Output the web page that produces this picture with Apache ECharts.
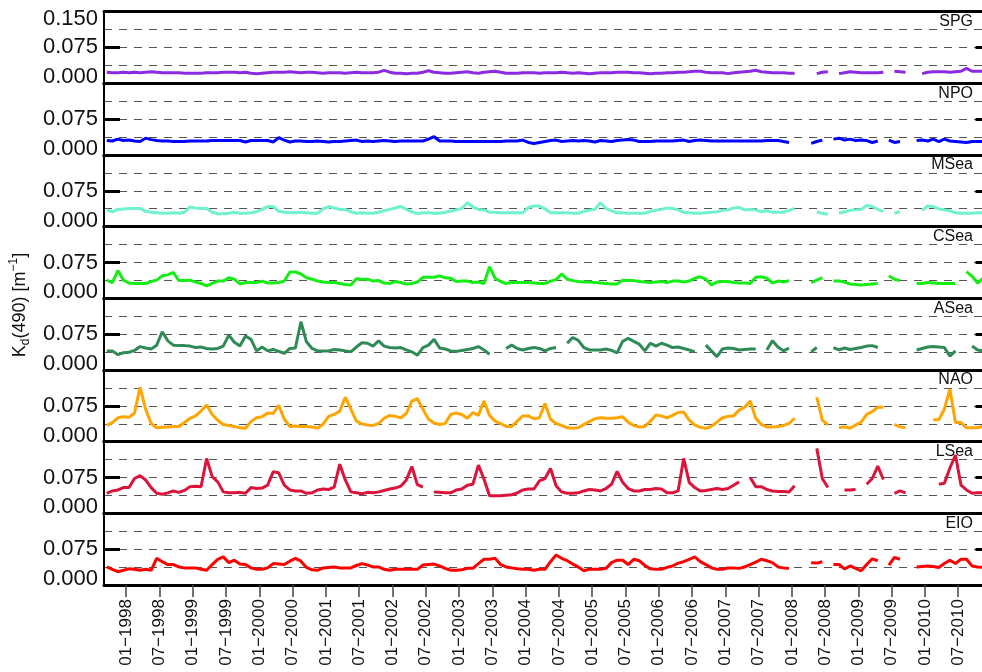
<!DOCTYPE html>
<html><head><meta charset="utf-8">
<script src="https://cdn.jsdelivr.net/npm/echarts@6/dist/echarts.min.js"></script>
<style>html,body{margin:0;padding:0;background:#fff}#c{width:982px;height:672px}</style>
</head><body><div id="c"></div>
<script>
// Monthly series, first month = 1997-09 (index 0), last = 2010-12 (index 159); null = missing month
const regions = ['SPG','NPO','MSea','CSea','ASea','NAO','LSea','EIO'];
const SPG = [0.023,0.022,0.022,0.023,0.022,0.023,0.022,0.023,0.024,0.023,
0.022,0.022,0.022,0.022,0.021,0.021,0.021,0.021,0.022,0.022,
0.022,0.023,0.023,0.023,0.022,0.023,0.021,0.020,0.021,0.022,
0.023,0.023,0.023,0.024,0.023,0.022,0.023,0.023,0.022,0.021,
0.022,0.022,0.022,0.021,0.022,0.023,0.022,0.022,0.022,0.023,
0.027,0.023,0.021,0.021,0.020,0.021,0.021,0.023,0.026,0.023,
0.022,0.021,0.021,0.022,0.023,0.024,0.022,0.021,0.023,0.024,
0.025,0.023,0.021,0.021,0.021,0.022,0.022,0.022,0.021,0.022,
0.022,0.022,0.023,0.022,0.021,0.022,0.021,0.020,0.021,0.022,
0.022,0.022,0.023,0.023,0.023,0.022,0.022,0.021,0.020,0.021,
0.021,0.022,0.022,0.023,0.023,0.024,0.025,0.025,0.023,0.022,
0.022,0.022,0.020,0.022,0.023,0.024,0.025,0.027,0.024,0.023,
0.022,0.022,0.022,0.021,0.021,null,null,null,0.020,0.023,
0.024,null,0.020,0.022,0.024,0.023,0.022,0.022,0.022,0.022,
0.023,null,0.025,0.024,0.023,null,null,0.020,0.023,0.024,
0.024,0.024,0.023,0.024,0.025,0.031,0.025,0.025,0.025,0.025];
const NPO = [0.030,0.029,0.033,0.030,0.031,0.029,0.028,0.035,0.032,0.030,
0.029,0.029,0.028,0.028,0.028,0.029,0.029,0.029,0.029,0.030,
0.030,0.030,0.030,0.030,0.030,0.027,0.030,0.030,0.030,0.030,
0.027,0.036,0.031,0.027,0.029,0.029,0.028,0.028,0.029,0.028,
0.027,0.028,0.028,0.029,0.030,0.031,0.028,0.029,0.028,0.029,
0.030,0.029,0.028,0.029,0.029,0.029,0.029,0.029,0.033,0.038,
0.029,0.029,0.029,0.028,0.028,0.028,0.028,0.028,0.028,0.028,
0.028,0.028,0.029,0.029,0.029,0.031,0.026,0.024,0.026,0.028,
0.030,0.031,0.028,0.029,0.030,0.029,0.030,0.029,0.027,0.030,
0.029,0.028,0.030,0.031,0.032,0.031,0.028,0.028,0.028,0.029,
0.029,0.029,0.029,0.030,0.031,0.028,0.030,0.031,0.030,0.029,
0.029,0.029,0.029,0.029,0.029,0.029,0.029,0.029,0.029,0.030,
0.030,0.030,0.028,0.026,null,null,null,0.024,0.028,0.031,
null,0.033,0.035,0.031,0.033,0.030,0.031,0.030,0.026,0.029,
null,0.031,0.026,0.028,null,null,0.030,0.031,0.029,0.033,
0.028,0.033,0.029,0.028,0.027,0.026,0.028,0.028,0.028,0.028];
const MSea = [0.035,0.031,0.036,0.037,0.038,0.038,0.038,0.032,0.030,0.029,
0.028,0.028,0.029,0.028,0.030,0.041,0.039,0.038,0.038,0.030,
0.027,0.027,0.028,0.030,0.028,0.028,0.029,0.031,0.036,0.042,
0.042,0.032,0.030,0.029,0.029,0.030,0.029,0.028,0.028,0.037,
0.042,0.039,0.036,0.036,0.031,0.028,0.029,0.028,0.028,0.030,
0.033,0.036,0.039,0.042,0.036,0.031,0.027,0.029,0.029,0.028,
0.028,0.030,0.032,0.035,0.038,0.050,0.041,0.036,0.035,0.030,
0.030,0.029,0.029,0.029,0.029,0.029,0.040,0.043,0.043,0.037,
0.029,0.029,0.029,0.029,0.028,0.028,0.032,0.034,0.036,0.050,
0.038,0.033,0.029,0.029,0.028,0.028,0.028,0.028,0.032,0.034,
0.036,0.039,0.038,0.035,0.030,0.029,0.028,0.028,0.029,0.030,
0.031,0.034,0.035,0.039,0.040,0.035,0.036,0.035,0.031,0.033,
0.030,0.030,0.030,0.034,0.038,null,null,null,0.030,0.028,
0.026,null,0.028,0.031,0.034,0.035,0.036,0.044,0.042,0.036,
0.032,null,0.028,0.031,null,null,null,0.034,0.043,0.042,
0.037,0.035,0.033,0.029,0.028,0.028,0.028,0.029,0.029,0.029];
const CSea = [0.038,0.033,0.058,0.038,0.032,0.031,0.031,0.031,0.035,0.038,
0.047,0.049,0.054,0.037,0.037,0.038,0.034,0.031,0.026,0.031,
0.036,0.036,0.043,0.040,0.030,0.033,0.033,0.033,0.036,0.032,
0.032,0.033,0.036,0.055,0.055,0.051,0.043,0.040,0.036,0.034,
0.033,0.033,0.031,0.029,0.028,0.041,0.040,0.040,0.036,0.037,
0.032,0.031,0.035,0.033,0.030,0.031,0.034,0.044,0.044,0.044,
0.047,0.043,0.042,0.035,0.036,0.036,0.033,0.034,0.031,0.066,
0.042,0.035,0.031,0.033,0.033,0.033,0.033,0.032,0.031,0.031,
0.036,0.039,0.051,0.040,0.037,0.035,0.034,0.034,0.033,0.032,
0.031,0.030,0.030,0.038,0.037,0.037,0.035,0.034,0.033,0.034,
0.035,0.033,0.036,0.036,0.034,0.036,0.042,0.045,0.040,0.028,
0.034,0.035,0.035,0.033,0.032,0.032,0.031,0.044,0.045,0.042,
0.032,0.036,0.034,0.037,null,null,null,0.033,0.038,0.043,
null,0.036,0.036,0.034,0.030,0.029,0.028,0.029,0.030,0.031,
null,0.047,0.040,0.037,null,null,0.031,0.031,0.033,0.032,
0.031,0.031,0.031,0.031,null,0.056,0.046,0.032,0.042,0.040];
const ASea = [0.040,0.040,0.032,0.036,0.037,0.041,0.049,0.046,0.044,0.052,
0.080,0.061,0.052,0.051,0.051,0.050,0.047,0.048,0.045,0.044,
0.045,0.050,0.073,0.058,0.050,0.071,0.064,0.040,0.048,0.040,
0.043,0.039,0.035,0.045,0.046,0.101,0.059,0.045,0.040,0.040,
0.040,0.043,0.042,0.040,0.038,0.048,0.057,0.056,0.050,0.061,
0.050,0.047,0.046,0.047,0.042,0.038,0.031,0.047,0.052,0.064,
0.046,0.044,0.040,0.039,0.041,0.043,0.045,0.049,0.042,0.033,
null,null,0.045,0.052,0.045,0.042,0.045,0.047,0.045,0.040,
0.045,0.047,null,0.056,0.068,0.062,0.047,0.042,0.042,0.042,
0.044,0.041,0.036,0.060,0.066,0.060,0.054,0.040,0.056,0.050,
0.056,0.052,0.047,0.048,0.045,0.042,0.038,null,0.052,0.040,
0.028,0.044,0.046,0.045,0.042,0.043,0.044,0.044,null,0.042,
0.061,0.048,0.040,0.046,null,null,null,0.038,0.047,null,
null,0.047,0.042,0.046,0.043,0.045,0.047,0.050,0.051,0.047,
null,null,null,null,null,null,0.042,0.045,0.048,0.049,
0.048,0.047,0.029,0.040,null,null,0.050,0.042,0.040,0.040];
const NAO = [0.034,0.040,0.050,0.052,0.051,0.060,0.114,0.068,0.038,0.029,
0.030,0.031,0.032,0.032,0.040,0.049,0.054,0.064,0.077,0.057,
0.045,0.036,0.034,0.032,0.029,0.028,0.042,0.050,0.052,0.060,
0.059,0.076,0.047,0.032,0.033,0.032,0.032,0.031,0.028,0.037,
0.053,0.057,0.064,0.093,0.068,0.043,0.037,0.035,0.034,0.038,
0.049,0.055,0.053,0.050,0.059,0.085,0.090,0.068,0.047,0.039,
0.036,0.038,0.057,0.060,0.057,0.049,0.061,0.055,0.085,0.055,
0.043,0.038,0.032,0.032,0.043,0.054,0.054,0.048,0.050,0.080,
0.047,0.038,0.034,0.029,0.028,0.029,0.036,0.042,0.048,0.050,
0.049,0.049,0.050,0.052,0.041,0.034,0.031,0.032,0.043,0.056,
0.054,0.050,0.055,0.061,0.062,0.045,0.035,0.030,0.028,0.032,
0.041,0.050,0.053,0.054,0.066,0.072,0.085,0.049,0.036,0.031,
0.031,0.032,0.034,0.038,0.049,null,null,null,0.093,0.045,
0.035,null,0.029,0.031,0.028,0.035,0.041,0.057,0.063,0.072,
0.072,null,0.036,0.031,0.029,null,null,null,null,0.046,
0.046,0.068,0.110,0.040,0.040,0.029,0.029,0.029,0.033,0.035];
const LSea = [0.042,0.047,0.049,0.054,0.054,0.073,0.079,0.070,0.054,0.042,
0.040,0.043,0.047,0.044,0.048,0.056,0.057,0.056,0.115,0.077,
0.066,0.045,0.043,0.043,0.044,0.042,0.054,0.052,0.053,0.059,
0.087,0.085,0.059,0.049,0.047,0.047,0.042,0.043,0.049,0.051,
0.050,0.055,0.103,0.070,0.045,0.043,0.041,0.044,0.043,0.045,
0.048,0.051,0.053,0.057,0.070,0.098,0.060,0.055,null,0.045,
0.044,0.043,0.043,0.049,0.051,0.059,0.061,0.101,0.072,0.037,
0.037,0.037,0.038,0.039,0.043,0.049,0.051,0.051,0.068,0.073,
0.094,0.058,0.045,0.042,0.042,0.043,0.047,0.050,0.049,0.047,
0.052,0.061,0.088,0.065,0.052,0.047,0.047,0.050,0.050,0.052,
0.051,0.043,0.043,0.047,0.115,0.065,0.054,0.047,0.048,0.050,
0.052,0.050,0.052,0.059,0.066,null,0.075,0.056,0.056,0.050,
0.047,0.046,0.046,0.045,0.058,null,null,null,0.136,0.073,
0.054,null,null,0.049,0.049,0.050,null,0.061,0.073,0.099,
0.071,null,0.042,0.047,0.043,null,null,null,null,null,
0.061,0.063,0.095,0.122,0.059,0.049,0.042,0.043,0.043,0.044];
const EIO = [0.038,0.033,0.028,0.031,0.034,0.033,0.031,0.033,0.031,0.056,
0.049,0.043,0.043,0.038,0.036,0.036,0.036,0.033,0.031,0.043,
0.054,0.059,0.047,0.052,0.044,0.043,0.036,0.033,0.033,0.036,
0.045,0.044,0.043,0.050,0.056,0.050,0.037,0.032,0.031,0.036,
0.037,0.038,0.036,0.036,0.036,0.041,0.045,0.042,0.038,0.038,
0.033,0.031,0.033,0.033,0.033,0.033,0.033,0.042,0.043,0.044,
0.040,0.035,0.031,0.031,0.032,0.035,0.035,0.045,0.054,0.054,
0.056,0.043,0.038,0.036,0.034,0.033,0.033,0.031,0.033,0.033,
0.049,0.063,0.056,0.051,0.044,0.038,0.030,0.033,0.033,0.033,
0.035,0.047,0.052,0.052,0.043,0.054,0.051,0.041,0.034,0.033,
0.033,0.037,0.040,0.046,0.049,0.054,0.059,0.049,0.043,0.036,
0.033,0.033,0.036,0.036,0.035,0.038,0.043,0.048,0.054,0.051,
0.047,0.038,0.036,0.035,null,null,null,0.047,0.046,0.049,
null,0.043,0.043,0.034,0.040,0.035,0.030,0.043,0.055,0.051,
null,0.042,0.058,0.054,null,null,0.038,0.039,0.040,0.039,
0.037,0.045,0.052,0.045,0.054,0.054,0.040,0.038,0.037,0.037];
const xTickLabels = ['01−1998','07−1998','01−1999','07−1999','01−2000','07−2000','01−2001','07−2001',
'01−2002','07−2002','01−2003','07−2003','01−2004','07−2004','01−2005','07−2005','01−2006','07−2006',
'01−2007','07−2007','01−2008','07−2008','01−2009','07−2009','01−2010','07−2010'];
const yTickValues = [0, 0.075, 0.15];
const yTickLabels = ['0.000','0.075','0.150'];

const seriesData = [SPG,NPO,MSea,CSea,ASea,NAO,LSea,EIO];
const colors = ['#8a2be2','#0000ff','#70f2cf','#14ee14','#2e8b57','#ffa500','#dc143c','#ff0000'];
const FONT = "'Liberation Sans', Arial, Helvetica, sans-serif";
const TOP0 = 11.5, PH = 71.7, LEFT = 104, RIGHT = -9.5;

// month offset (months since 1997-09-01) of a tick label "MM−YYYY"
const tickPos = xTickLabels.map(s => (parseInt(s.slice(3),10)-1997)*12 + parseInt(s.slice(0,2),10) - 1 - 8);

const grids=[], xAxes=[], yAxes=[], series=[], graphics=[];
const N = regions.length;
seriesData.forEach((vals,k)=>{
  const last = k===N-1;
  grids.push({left:LEFT, right:RIGHT, top:TOP0+PH*k, height:PH, outerBoundsMode:'none', containLabel:false});
  xAxes.push({type:'value', gridIndex:k, min:0, max:160, position:'bottom',
    axisLine:{show:true, onZero:false, lineStyle:{color:'#000', width:3}},
    axisTick:{show:last, customValues:tickPos, inside:false, length:12, lineStyle:{color:'#444', width:1.5}},
    axisLabel:{show:last, customValues:tickPos, rotate:90, margin:14, fontSize:17, color:'#111', fontFamily:FONT,
      formatter:(v)=>{const j=tickPos.indexOf(Math.round(v)); return j>=0?xTickLabels[j]:'';}},
    splitLine:{show:false}});
  xAxes.push({type:'value', gridIndex:k, min:0, max:160, position:'top',
    axisLine:{show:true, onZero:false, lineStyle:{color:'#000', width:3}},
    axisTick:{show:false}, axisLabel:{show:false}, splitLine:{show:false}});
  const richBase = {fontSize:22, fontFamily:FONT, color:'#111'};
  yAxes.push({type:'value', gridIndex:k, min:0, max:0.15, interval:0.075, position:'left',
    axisLine:{show:true, onZero:false, lineStyle:{color:'#000', width:2}},
    axisTick:{show:true, inside:true, length:16, lineStyle:{color:'#000', width:3}},
    axisLabel:{show:true, margin:6, fontSize:22, fontFamily:FONT, color:'#111',
      formatter:(v)=>{
        const j = yTickValues.findIndex(t=>Math.abs(t-v)<1e-6);
        if (j===0) return '{lo|'+yTickLabels[0]+'}';
        if (j===1) return yTickLabels[1];
        if (j===2 && k===0) return '{hi|'+yTickLabels[2]+'}';
        return '';
      },
      rich:{lo:Object.assign({padding:[0,0,12,0]},richBase), hi:Object.assign({padding:[14,0,0,0]},richBase)}},
    splitLine:{show:true, lineStyle:{color:'#555', width:1, type:[8,7]}},
    minorTick:{show:false, splitNumber:2},
    minorSplitLine:{show:true, lineStyle:{color:'#555', width:1, type:[8,7]}}});
  yAxes.push({type:'value', gridIndex:k, min:0, max:0.15, interval:0.075, position:'right',
    axisLine:{show:false, onZero:false},
    axisTick:{show:true, inside:true, length:16, lineStyle:{color:'#000', width:3}},
    axisLabel:{show:false}, splitLine:{show:false}});
  series.push({type:'line', name:regions[k], xAxisIndex:2*k, yAxisIndex:2*k,
    data: vals.map((v,i)=>[i+0.5, v==null?'-':v]),
    showSymbol:false, symbol:'none', connectNulls:false, animation:false, z:3,
    lineStyle:{color:colors[k], width:3}, itemStyle:{color:colors[k]}});
  graphics.push({type:'text', x:973, y:TOP0+PH*k+10, z:10,
    style:{text:regions[k], fill:'#111', font:'16px '+FONT, align:'right', verticalAlign:'middle',
      textAlign:'right', textVerticalAlign:'middle'}});
});
graphics.push({type:'text', x:20, y:305, rotation:Math.PI/2, z:10,
  style:{text:'{k|K}{d|d}{k|(490) [m}{s|−1}{k|]}', align:'center', verticalAlign:'middle',
    textAlign:'center', textVerticalAlign:'middle',
    rich:{k:{fontSize:18, fontFamily:FONT, fill:'#111', color:'#111', lineHeight:24},
          d:{fontSize:12, fontFamily:FONT, fill:'#111', color:'#111', lineHeight:12, verticalAlign:'bottom'},
          s:{fontSize:12, fontFamily:FONT, fill:'#111', color:'#111', lineHeight:12, verticalAlign:'top'}}}});

const chart = echarts.init(document.getElementById('c'), null, {renderer:'canvas'});
chart.setOption({animation:false, backgroundColor:'#fff', grid:grids, xAxis:xAxes, yAxis:yAxes, series:series, graphic:graphics});
</script></body></html>
